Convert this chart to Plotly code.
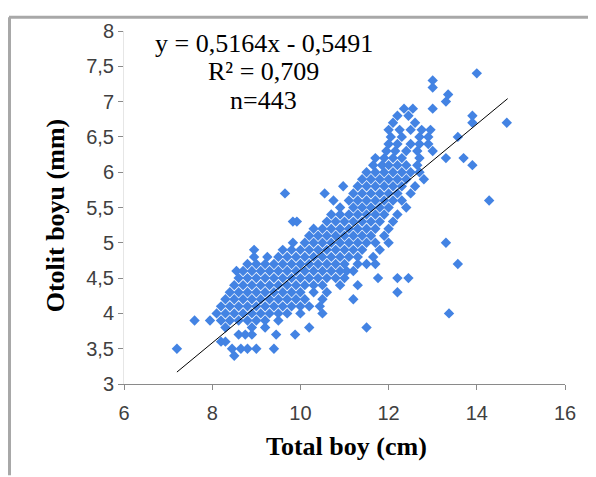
import plotly.graph_objects as go

# ---- data ----
slope = 0.5164
intercept = -0.5491
line_x_range = [7.2, 14.7]

y_levels = [3.4, 3.5, 3.6, 3.7, 3.8, 3.9, 4.0, 4.1, 4.2, 4.3, 4.4, 4.5, 4.6, 4.7, 4.8,
            4.9, 5.0, 5.1, 5.2, 5.3, 5.4, 5.5, 5.6, 5.7, 5.8, 5.9, 6.0, 6.1, 6.2, 6.3,
            6.4, 6.5, 6.6, 6.7, 6.8, 6.9, 7.0, 7.1, 7.2, 7.3, 7.4]
x_at_level = [
    [8.5],
    [7.2, 8.45, 8.65, 8.8, 9.0, 9.4],
    [8.2, 8.3],
    [8.6, 8.75, 8.9, 9.45, 9.88],
    [8.3, 8.9, 9.2, 10.2, 11.5],
    [7.6, 7.95, 8.2, 8.4, 8.6, 8.8, 9.0, 9.2, 9.5],
    [8.1, 8.3, 8.5, 8.7, 8.9, 9.1, 9.3, 9.5, 9.7, 10.0, 10.5, 13.37],
    [8.2, 8.4, 8.6, 8.8, 9.0, 9.2, 9.4, 9.6, 9.8, 10.0, 10.2, 10.44],
    [8.3, 8.5, 8.7, 8.9, 9.1, 9.3, 9.5, 9.7, 9.9, 10.1, 10.5, 11.2],
    [8.4, 8.6, 8.8, 9.0, 9.2, 9.4, 9.6, 9.8, 10.0, 10.3, 10.6, 12.2],
    [8.5, 8.7, 8.9, 9.1, 9.3, 9.5, 9.7, 9.9, 10.1, 10.3, 10.5, 10.9, 11.3],
    [8.6, 8.8, 9.0, 9.2, 9.4, 9.6, 9.8, 10.0, 10.2, 10.4, 10.6, 10.8, 11.0, 11.76, 12.2, 12.45],
    [8.55, 8.7, 8.9, 9.1, 9.3, 9.5, 9.7, 9.9, 10.1, 10.3, 10.5, 10.7, 10.9, 11.05, 11.2],
    [8.8, 9.0, 9.2, 9.4, 9.6, 9.8, 10.0, 10.2, 10.4, 10.6, 10.8, 11.0, 11.3, 11.5, 11.7, 13.57],
    [8.95, 9.25, 9.5, 9.7, 9.9, 10.1, 10.3, 10.5, 10.7, 10.9, 11.1, 11.3, 11.65],
    [8.95, 9.6, 9.8, 10.0, 10.2, 10.4, 10.6, 10.8, 11.0, 11.2, 11.4, 11.8],
    [9.83, 10.1, 10.3, 10.5, 10.7, 10.9, 11.1, 11.3, 11.5, 11.7, 12.0, 13.3],
    [10.2, 10.4, 10.6, 10.8, 11.0, 11.2, 11.4, 11.6, 11.9],
    [10.3, 10.5, 10.7, 10.9, 11.1, 11.3, 11.5, 11.7, 12.0],
    [9.83, 9.92, 10.6, 10.8, 11.0, 11.2, 11.4, 11.6, 11.8, 12.1],
    [10.7, 10.9, 11.1, 11.3, 11.5, 11.7, 11.9, 12.2],
    [10.9, 11.2, 11.4, 11.6, 11.8, 12.0, 12.4],
    [10.75, 11.1, 11.3, 11.5, 11.7, 11.9, 12.1, 12.3, 14.28],
    [9.65, 10.55, 11.2, 11.4, 11.6, 11.8, 12.0, 12.2, 12.5],
    [10.97, 11.3, 11.5, 11.7, 11.9, 12.1, 12.3, 12.6],
    [11.4, 11.6, 11.8, 12.0, 12.2, 12.4, 12.8],
    [11.5, 11.7, 11.9, 12.1, 12.3, 12.5, 12.7],
    [11.65, 11.85, 12.0, 12.2, 12.4, 12.65, 13.9],
    [11.7, 11.9, 12.1, 12.3, 12.7, 13.3, 13.7],
    [11.95, 12.15, 12.4, 12.65, 13.0],
    [12.0, 12.2, 12.5, 12.7, 12.9],
    [12.05, 12.3, 12.7, 12.9, 13.57],
    [12.0, 12.25, 12.5, 12.75, 12.95],
    [12.1, 12.6, 13.9, 14.68],
    [12.2, 12.45, 13.9],
    [12.35, 12.55, 13.0],
    [13.3],
    [13.35],
    [13.0],
    [13.0],
    [14.0],
]

x_ticks = [6, 8, 10, 12, 14, 16]
y_ticks = [3, 3.5, 4, 4.5, 5, 5.5, 6, 6.5, 7, 7.5, 8]
y_tick_text = ["3", "3,5", "4", "4,5", "5", "5,5", "6", "6,5", "7", "7,5", "8"]

eq_lines = ["y = 0,5164x - 0,5491", "R² = 0,709", "n=443"]
x_title = "<b>Total boy (cm)</b>"
y_title = "<b>Otolit boyu (mm)</b>"

# ---- build ----
xs, ys = [], []
for yl, row in zip(y_levels, x_at_level):
    for xv in row:
        xs.append(xv)
        ys.append(yl)

fig = go.Figure()
fig.add_trace(go.Scatter(
    x=xs, y=ys, mode="markers",
    marker=dict(symbol="diamond", size=8, color="#4383E3", line=dict(width=0)),
    showlegend=False, hoverinfo="skip"))
fig.add_trace(go.Scatter(
    x=line_x_range, y=[slope * v + intercept for v in line_x_range],
    mode="lines", line=dict(color="black", width=1), showlegend=False))

tick_font = dict(family="Liberation Sans, Arial, sans-serif", size=20, color="#404040")
title_font = dict(family="Liberation Serif, Times New Roman, serif", size=26, color="black")

# plot area (figure px): left 116, right 557, top 16, bottom 376
fig.update_layout(
    width=588, height=469,
    margin=dict(l=116, r=31, t=16, b=93),
    paper_bgcolor="white", plot_bgcolor="white",
    separators=", ",
    modebar=dict(bgcolor="rgba(0,0,0,0)"),
    xaxis=dict(range=[6, 16], tickvals=x_ticks, showgrid=False, zeroline=False,
               showline=True, linecolor="#8a8a8a", linewidth=1,
               ticks="outside", ticklen=5, tickcolor="#8a8a8a",
               ticklabelstandoff=6,
               tickfont=tick_font),
    yaxis=dict(range=[3, 8], tickvals=y_ticks, ticktext=y_tick_text, showgrid=False,
               zeroline=False, showline=True, linecolor="#e6e6e6", linewidth=1,
               ticks="outside", ticklen=5, tickcolor="#8a8a8a",
               tickfont=tick_font),
)

# axis titles placed as annotations (figure px -> paper)
fig.add_annotation(x=(338 - 116) / 441, y=(376 - 440) / 360, xref="paper", yref="paper",
                   text=x_title, showarrow=False, font=title_font,
                   xanchor="center", yanchor="middle")
fig.add_annotation(x=(47 - 116) / 441, y=(376 - 204) / 360, xref="paper", yref="paper",
                   text=y_title, showarrow=False, font=title_font, textangle=-90,
                   xanchor="center", yanchor="middle")

ann_font = dict(family="Liberation Serif, Times New Roman, serif", size=26, color="black")
for i, txt in enumerate(eq_lines):
    fig.add_annotation(x=9.17, y=7.83 - i * 0.41, xref="x", yref="y", text=txt,
                       showarrow=False, font=ann_font, xanchor="center", yanchor="middle")

border = dict(color="#a8a8a8", width=3)
fig.add_shape(type="line", xref="paper", yref="paper",
              x0=(1 - 116) / 441, x1=(588 - 116) / 441,
              y0=(376 - 2) / 360, y1=(376 - 2) / 360, line=border, layer="above")
fig.add_shape(type="line", xref="paper", yref="paper",
              x0=(1.5 - 116) / 441, x1=(1.5 - 116) / 441,
              y0=(376 - 2) / 360, y1=(376 - 469) / 360, line=border, layer="above")

fig.write_html("out.html")
